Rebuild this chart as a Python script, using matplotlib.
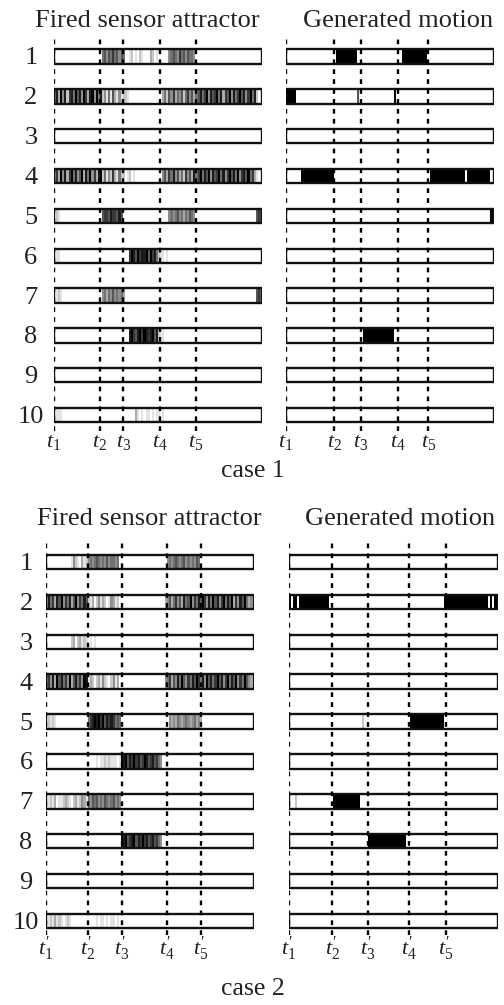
import matplotlib
matplotlib.use("Agg")
import matplotlib.pyplot as plt
import numpy as np
from matplotlib.patches import Rectangle

plt.rcParams['font.family'] = ['Liberation Serif', 'DejaVu Serif']
plt.rcParams['mathtext.fontset'] = 'custom'
plt.rcParams['mathtext.rm'] = 'Liberation Serif'
plt.rcParams['mathtext.it'] = 'Liberation Serif:italic'

# each row: 100 time bins, activation level 0 (white) .. 9 (black)
row_names = ['1', '2', '3', '4', '5', '6', '7', '8', '9', '10']

case1_sensor = [
    "0" * 23 + "56465756465" + "0012010210003201000" + "00" + "4565475646554" + "0" * 32,
    "58394827859684973894958" + "24151631412" + "210000000000000000" + "35264735462574635"
    + "6857948679583769485796847958" + "200",
    "0" * 100,
    "47394837958469385947389" + "25142731522" + "012010000000000000" + "46375846352746385"
    + "7958694867958479685947869573" + "100",
    "021" + "0" * 20 + "6776877686" + "0" * 22 + "4545645354654" + "0" * 29 + "676",
    "011" + "0" * 33 + "79869788969785" + "211010" + "0" * 44,
    "0121" + "0" * 19 + "45354645453" + "0" * 63 + "675",
    "0" * 36 + "89768979878968" + "2110" + "0" * 46,
    "0" * 100,
    "0111" + "0" * 35 + "3" + "1010110101101000" + "0" * 44,
]

case1_motion = [
    "0" * 24 + "9" * 10 + "0" * 22 + "9" * 12 + "0" * 32,
    "9" * 5 + "0" * 29 + "6" + "0" * 17 + "9" + "0" * 47,
    "0" * 100,
    "0" * 7 + "9" * 16 + "0" * 46 + "9" * 17 + "0" + "9" * 11 + "00",
    "0" * 98 + "99",
    "0" * 100,
    "0" * 100,
    "0" * 37 + "9" * 15 + "0" * 48,
    "0" * 100,
    "0" * 100,
]

case2_sensor = [
    "0" * 12 + "14210312" + "454565454645545" + "0" * 23 + "4545654564545465" + "0" * 26,
    "48573869475836947586" + "21302413201431200" + "0" * 20
    + "3463574638" + "5694758697" + "4859684795" + "8693748695" + "343",
    "0" * 12 + "2302312" + "101010" + "0" * 75,
    "57483968574936857498" + "13202314210241300" + "0" * 20
    + "4573648596" + "4758697584" + "9685796847" + "9586947596" + "432",
    "02121" + "0" * 15 + "5789897968787565" + "0" * 23 + "4343543454345343" + "0" * 25,
    "0" * 24 + "101121211101" + "98968797867986786754" + "0" * 44,
    "01213011232102312431" + "5465645465456454" + "0" * 64,
    "0" * 36 + "98967896879786786754" + "0" * 44,
    "0" * 100,
    "0121312101210" + "0" * 11 + "101101011010" + "0" * 64,
]

case2_motion = [
    "0" * 100,
    "9099" + "0" + "9" * 14 + "0" * 55 + "9" * 21 + "09099",
    "0" * 100,
    "0" * 100,
    "0" * 35 + "2" + "0" * 22 + "9" * 16 + "0" * 26,
    "0" * 100,
    "0002" + "0" * 17 + "9" * 13 + "0" * 66,
    "0" * 38 + "9" * 18 + "0" * 44,
    "0" * 100,
    "0" * 100,
]

# event times (in bins) for each panel
t_case1_sensor = [0, 22.1, 33.3, 51, 68.3]
t_case1_motion = [0, 23.1, 35.9, 54, 68.4]
t_case2_sensor = [0, 20.2, 36.5, 58.2, 74.5]
t_case2_motion = [0, 20.8, 37.6, 57.4, 75]

t_labels1 = [r'$t_1$', r'$t_2$', r'$t_3$', r'$t_4$', r'$t_5$']
t_labels2 = [r'$t_1^{\prime}$', r'$t_2^{\prime}$', r'$t_3^{\prime}$', r'$t_4^{\prime}$', r'$t_5^{\prime}$']


def to_array(rows):
    return np.array([[int(c) for c in r.ljust(100, '0')[:100]] for r in rows], dtype=float)


def draw_panel(ax, rows, times, tlabels, title, title_x, title_y, ylim, num_x=None, t_y=10.8):
    data = to_array(rows)
    h = 0.36
    for i in range(len(rows)):
        y = i + 1
        ax.imshow(data[i:i + 1], cmap='gray_r', vmin=0, vmax=9, aspect='auto',
                  interpolation='nearest', extent=(0, 100, y + h / 2, y - h / 2), zorder=1)
        ax.add_patch(Rectangle((0, y - h / 2), 100, h, fill=False, lw=1.7, ec='#111111', zorder=2))
        if num_x is not None:
            ax.text(num_x, y + 0.2, row_names[i], ha='center', va='baseline', fontsize=19,
                    color='#222222')
    for t, lab in zip(times, tlabels):
        ax.axvline(t, color='black', lw=1.7, ls=(0, (2, 2.2)), zorder=3)
        ax.text(t, t_y, lab, ha='center', va='baseline', fontsize=16, color='#222222')
    ax.text(title_x, title_y, title, ha='center', va='baseline', fontsize=19, color='#222222')
    ax.set_xlim(0, 100)
    ax.set_ylim(*ylim)
    ax.axis('off')


fig = plt.figure(figsize=(5.04, 10.05), dpi=100)

ax1 = fig.add_axes([54 / 504, 1 - 431 / 1005, 208 / 504, 396.4 / 1005])
ax2 = fig.add_axes([286 / 504, 1 - 431 / 1005, 208 / 504, 396.4 / 1005])
ax3 = fig.add_axes([46 / 504, 1 - 935 / 1005, 208 / 504, 393 / 1005])
ax4 = fig.add_axes([289 / 504, 1 - 935 / 1005, 209 / 504, 393 / 1005])

draw_panel(ax1, case1_sensor, t_case1_sensor, t_labels1, 'Fired sensor attractor',
           45, 0.26, (10.4, 0.45), num_x=-11.1, t_y=10.8)
draw_panel(ax2, case1_motion, t_case1_motion, t_labels1, 'Generated motion',
           53.8, 0.26, (10.4, 0.45), t_y=10.8)
draw_panel(ax3, case2_sensor, t_case2_sensor, t_labels2, 'Fired sensor attractor',
           49.5, 0.07, (10.35, 0.5), num_x=-9.6, t_y=10.85)
draw_panel(ax4, case2_motion, t_case2_motion, t_labels2, 'Generated motion',
           53.3, 0.07, (10.35, 0.5), t_y=10.85)

fig.text(253 / 504, 1 - 477 / 1005, 'case 1', ha='center', va='baseline', fontsize=18.5,
         color='#222222')
fig.text(253 / 504, 1 - 995 / 1005, 'case 2', ha='center', va='baseline', fontsize=18.5,
         color='#222222')

fig.savefig('out.png', dpi=100)
